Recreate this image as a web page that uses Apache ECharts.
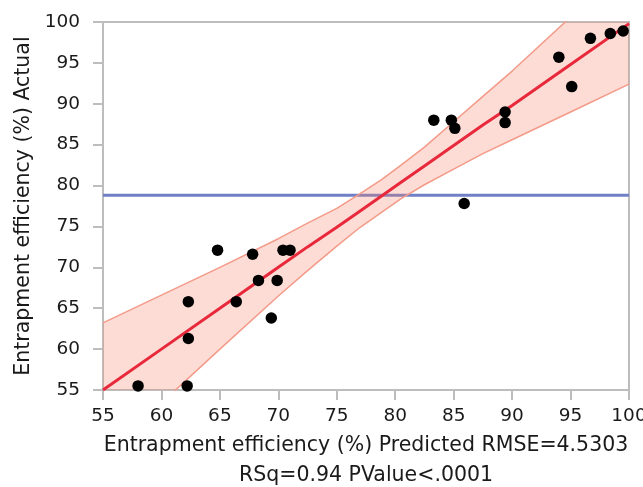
<!DOCTYPE html>
<html>
<head>
<meta charset="utf-8">
<script src="https://cdn.jsdelivr.net/npm/echarts@6/dist/echarts.min.js"></script>
<style>html,body{margin:0;padding:0;background:#fff}#c{width:643px;height:487px}</style>
</head>
<body>
<div id="c"></div>
<script>
// Observed points: predicted (x) and actual (y)
const predicted = [58.0, 62.2, 62.3, 62.3, 64.8, 66.4, 67.8, 68.3, 69.4, 69.9, 70.4, 71.0,
                   83.3, 84.8, 85.1, 85.9, 89.4, 89.4, 94.0, 95.1, 96.7, 98.4, 99.5];
const actual    = [55.5, 55.5, 61.3, 65.8, 72.1, 65.8, 71.6, 68.4, 63.8, 68.4, 72.1, 72.1,
                   88.0, 88.0, 87.0, 77.8, 89.0, 87.7, 95.7, 92.1, 98.0, 98.6, 98.9];
// Fit line and confidence band read at these predicted values
const bandX     = [55, 60, 65, 70, 72.5, 75, 77, 78.8, 80.5, 82.5, 85, 87.5, 90, 95, 100];
const fitY      = [55.0, 60.0, 65.0, 70.0, 72.5, 74.9, 76.9, 78.7, 80.4, 82.4, 84.9, 87.4, 89.8, 94.8, 99.8];
const bandUpper = [63.2, 66.6, 70.0, 73.5, 75.4, 77.2, 79.0, 80.7, 82.5, 84.7, 87.8, 90.9, 94.0, 100.6, 107.2];
const bandLower = [46.8, 53.4, 60.0, 66.5, 69.6, 72.6, 74.9, 76.7, 78.4, 80.1, 82.0, 83.9, 85.6, 89.0, 92.4];
const meanActual = 78.8;
const xTicks = {min: 55, max: 100, step: 5};
const yTicks = {min: 55, max: 100, step: 5};

const FONT = 'DejaVu Sans';
const TEXT = '#1a1a1a';
const axisGray = '#bdbdbd';
const zip = (a, b) => a.map((v, i) => [v, b[i]]);

const chart = echarts.init(document.getElementById('c'), null, {renderer: 'canvas'});
chart.setOption({
  animation: false,
  backgroundColor: '#fff',
  grid: {left: 103, right: 14, top: 22, bottom: 97, show: true, borderColor: axisGray, borderWidth: 2,
         containLabel: false, outerBoundsMode: 'none'},
  xAxis: {
    type: 'value', min: xTicks.min, max: xTicks.max, interval: xTicks.step,
    splitLine: {show: false},
    axisLine: {show: true, lineStyle: {color: axisGray, width: 2}},
    axisTick: {show: true, length: 10, lineStyle: {color: axisGray, width: 2}},
    axisLabel: {color: TEXT, fontSize: 18.5, fontFamily: FONT, margin: 17},
    name: 'Entrapment efficiency (%) Predicted RMSE=4.5303\nRSq=0.94 PValue<.0001',
    nameLocation: 'middle', nameGap: 40,
    nameTextStyle: {color: TEXT, fontSize: 20.5, fontFamily: FONT, lineHeight: 30, verticalAlign: 'top'}
  },
  yAxis: {
    type: 'value', min: yTicks.min, max: yTicks.max, interval: yTicks.step,
    splitLine: {show: false},
    axisLine: {show: true, lineStyle: {color: axisGray, width: 2}},
    axisTick: {show: true, length: 10, lineStyle: {color: axisGray, width: 2}},
    axisLabel: {color: TEXT, fontSize: 18.5, fontFamily: FONT, margin: 23},
    name: 'Entrapment efficiency (%) Actual',
    nameLocation: 'middle', nameGap: 78, nameRotate: 90,
    nameTextStyle: {color: TEXT, fontSize: 20.5, fontFamily: FONT, verticalAlign: 'middle'}
  },
  series: [
    {
      type: 'line', data: [[xTicks.min, meanActual], [xTicks.max, meanActual]],
      symbol: 'none', lineStyle: {color: '#6f80c6', width: 3}, z: 1
    },
    {
      type: 'custom', clip: true, z: 2,
      data: [[bandX[0], bandUpper[0]]],
      renderItem: function (params, api) {
        const pts = [];
        for (let i = 0; i < bandX.length; i++) pts.push(api.coord([bandX[i], bandUpper[i]]));
        for (let i = bandX.length - 1; i >= 0; i--) pts.push(api.coord([bandX[i], bandLower[i]]));
        return {type: 'polygon', shape: {points: pts}, style: {fill: 'rgba(247,128,108,0.28)', stroke: 'none'}};
      }
    },
    {
      type: 'line', data: zip(bandX, bandUpper), symbol: 'none', clip: true, z: 3,
      lineStyle: {color: '#f39a88', width: 1.5}
    },
    {
      type: 'line', data: zip(bandX, bandLower), symbol: 'none', clip: true, z: 3,
      lineStyle: {color: '#f39a88', width: 1.5}
    },
    {
      type: 'line', data: zip(bandX, fitY), symbol: 'none', clip: true, z: 4,
      lineStyle: {color: '#e8293c', width: 3}
    },
    {
      type: 'scatter', data: zip(predicted, actual), symbol: 'circle', symbolSize: 11.5, z: 5,
      itemStyle: {color: '#000', opacity: 1}
    }
  ]
});
</script>
</body>
</html>
